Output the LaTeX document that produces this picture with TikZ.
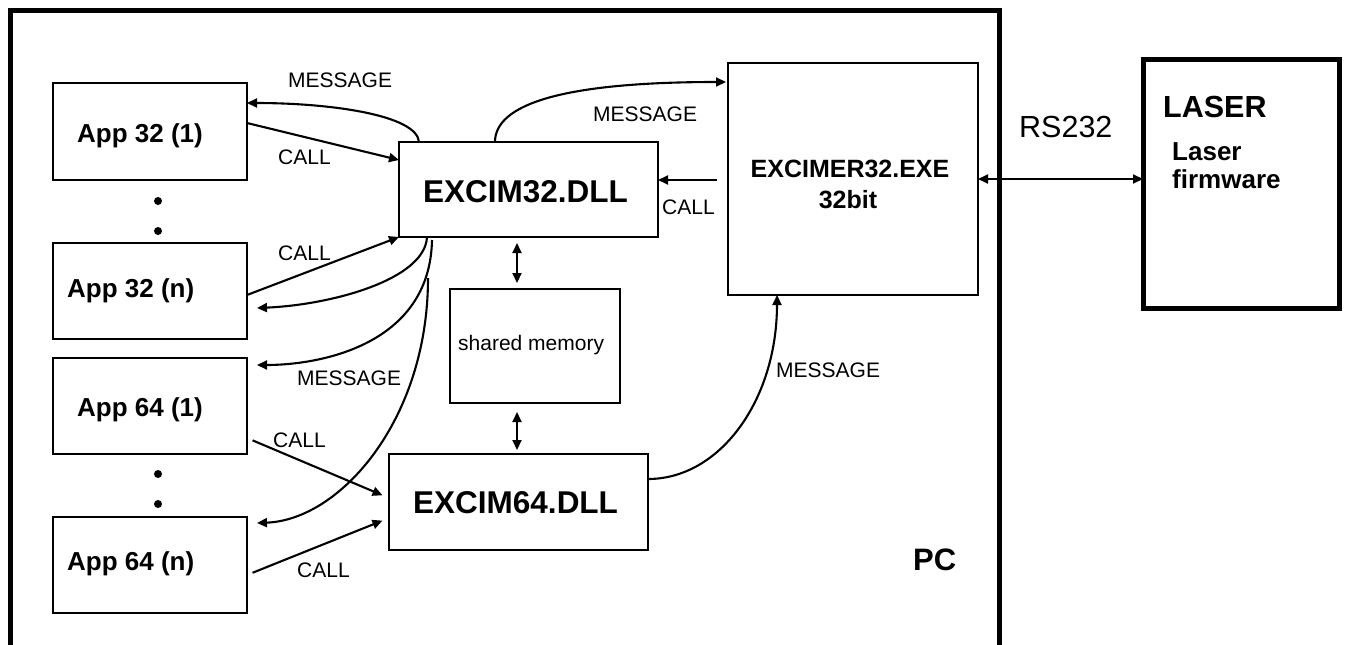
\documentclass[tikz,border=0pt]{standalone}
\usepackage{fontspec}
\setmainfont{Liberation Sans}
\usetikzlibrary{arrows.meta,calc}
\begin{document}
\begin{tikzpicture}[x=1pt,y=-1pt,
  box/.style={draw,line width=2.6pt,inner sep=0pt,outer sep=0pt},
  conn/.style={line width=2.1pt,-{Triangle[length=10pt,width=9pt]}},
  dconn/.style={line width=2.1pt,{Triangle[length=10pt,width=9pt]}-{Triangle[length=10pt,width=9pt]}},
  apptxt/.style={anchor=base west,inner sep=0pt,font=\fontsize{26}{30}\selectfont\bfseries},
  dlltxt/.style={anchor=base west,inner sep=0pt,font=\fontsize{31.5}{36}\selectfont\bfseries},
  lbl/.style={anchor=base west,inner sep=0pt,font=\fontsize{21}{25}\selectfont},
  dot/.style={circle,fill,inner sep=0pt,minimum size=8pt}]
\useasboundingbox (0,0) rectangle (1347,645);
\fill[white] (0,0) rectangle (1347,645);
% PC frame
\draw[line width=5pt] (10,652) -- (10,10) -- (999,10) -- (999,652);
% boxes
\node[box,minimum width=194pt,minimum height=97pt] (a32a) at (150,131.5) {};
\node[box,minimum width=194pt,minimum height=96pt] (a32n) at (150,291) {};
\node[box,minimum width=194pt,minimum height=96pt] (a64a) at (150,406) {};
\node[box,minimum width=194pt,minimum height=96pt] (a64n) at (150,565) {};
\node[box,minimum width=259pt,minimum height=95pt] (dll32) at (528.5,189.5) {};
\node[box,minimum width=259pt,minimum height=96pt] (dll64) at (518.5,502) {};
\node[box,line width=2.2pt,minimum width=170pt,minimum height=114pt] (shm) at (535,346) {};
\node[box,line width=1.8pt,minimum width=250pt,minimum height=232pt] (exe) at (853,179) {};
\node[box,line width=5pt,minimum width=196pt,minimum height=249pt] (laser) at (1241,183.5) {};
% dots
\node[dot] (d1) at (158,201) {};
\node[dot] (d2) at (158,231) {};
\node[dot] (d3) at (158,474) {};
\node[dot] (d4) at (158,504) {};
% box texts
\node[apptxt] (ta1) at (77,142) {App 32 (1)};
\node[apptxt] (ta2) at (67,297) {App 32 (n)};
\node[apptxt] (ta3) at (77,416) {App 64 (1)};
\node[apptxt] (ta4) at (67,570) {App 64 (n)};
\node[dlltxt] (tdll32) at (423,202) {EXCIM32.DLL};
\node[dlltxt] (tdll64) at (413,513) {EXCIM64.DLL};
\node[anchor=base,inner sep=0pt,font=\fontsize{25}{30}\selectfont\bfseries] (texe1) at (850,177) {EXCIMER32.EXE};
\node[anchor=base,inner sep=0pt,font=\fontsize{25}{30}\selectfont\bfseries] (texe2) at (848,208) {32bit};
\node[anchor=base west,inner sep=0pt,font=\fontsize{30.5}{36}\selectfont\bfseries] (tlaser) at (1163,117) {LASER};
\node[anchor=base west,inner sep=0pt,font=\fontsize{26}{30}\selectfont\bfseries] (tfw1) at (1172,160) {Laser};
\node[anchor=base west,inner sep=0pt,font=\fontsize{26}{30}\selectfont\bfseries] (tfw2) at (1172,188) {firmware};
\node[anchor=base west,inner sep=0pt,font=\fontsize{31}{36}\selectfont\bfseries] (tpc) at (913,570) {PC};
\node[anchor=base west,inner sep=0pt,font=\fontsize{30.5}{36}\selectfont] (trs) at (1019,137) {RS232};
\node[lbl] (tshm) at (458,350) {shared memory};
% labels
\node[lbl] (m1) at (288,87) {MESSAGE};
\node[lbl] (m2) at (593,121) {MESSAGE};
\node[lbl] (m3) at (297,385) {MESSAGE};
\node[lbl] (m4) at (776,377) {MESSAGE};
\node[lbl] (c1) at (278,164) {CALL};
\node[lbl] (c2) at (278,260) {CALL};
\node[lbl] (c3) at (273,447) {CALL};
\node[lbl] (c4) at (297,577) {CALL};
\node[lbl] (c5) at (662,214) {CALL};
% connectors
\draw[conn] ($(dll32.north west)+(20,0)$) .. controls (417,115) and (330,103) .. ($(a32a.north east)+(0,20)$);
\draw[conn] ($(a32a.north east)+(0,40)$) -- ($(dll32.north west)+(0,18)$);
\draw[conn] ($(a32n.north east)+(0,52)$) -- (dll32.south west);
\draw[conn] ($(dll32.south west)+(28,0)$) .. controls (425,280) and (330,305) .. ($(a32n.north east)+(10,65)$);
\draw[conn] ($(dll32.south west)+(33,3)$) .. controls (430,345) and (320,365) .. ($(a64a.north east)+(10,7)$);
\coordinate (m64s) at (428,278);
\draw[conn] (m64s) .. controls (428,420) and (340,520) .. ($(a64n.north east)+(10,6)$);
\draw[conn,shorten <=6pt,shorten >=7pt] ($(a64a.north east)+(0,80)$) -- ($(dll64.north west)+(0,44)$);
\draw[conn,shorten <=6pt,shorten >=7pt] ($(a64n.north east)+(0,58)$) -- ($(dll64.north west)+(0,64)$);
\draw[conn,shorten <=11pt] ($(exe.north west)+(0,117)$) -- ($(dll32.north east)+(0,38)$);
\draw[conn] ($(dll32.north west)+(96,0)$) .. controls (495,105) and (560,82) .. ($(exe.north west)+(-2,19)$);
\draw[dconn,shorten <=6pt,shorten >=6pt] ($(dll32.south west)+(118,0)$) -- ($(shm.north west)+(67,0)$);
\draw[dconn,shorten <=9pt,shorten >=4pt] ($(shm.south west)+(67,0)$) -- ($(dll64.north west)+(128,0)$);
\draw[conn] ($(dll64.north east)+(0,25)$) .. controls (720,479) and (777,400) .. ($(exe.south west)+(49,0)$);
\draw[dconn] (exe.east) -- (exe.east -| laser.west);
\end{tikzpicture}
\end{document}
